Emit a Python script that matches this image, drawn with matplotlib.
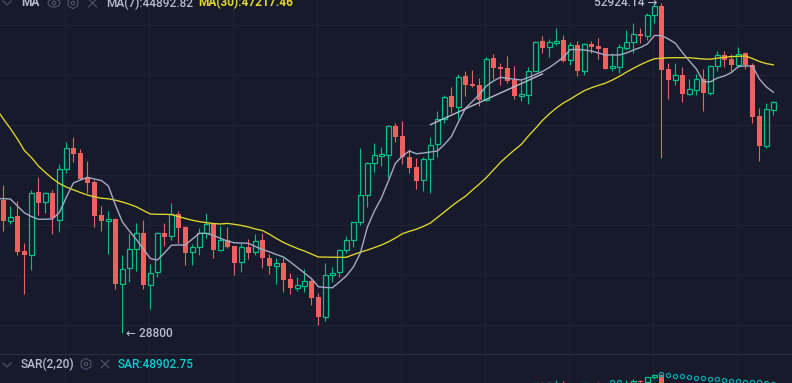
import numpy as np
import matplotlib
matplotlib.use("Agg")
import matplotlib.pyplot as plt
from matplotlib.patches import Ellipse, RegularPolygon, Circle

plt.rcParams['font.family'] = ['Roboto', 'DejaVu Sans']

opens = [36802,35425,35734,33481,33273,37329,36647,37281,35490,38947,40507,40114,38306,38045,35800,35425,35536,31540,32448,33605,34612,31482,32210,34612,34421,35846,34997,33420,33730,34612,35211,33580,34185,33811,32810,33767,33420,34185,33071,32605,32767,31814,31308,31424,31697,30776,29678,32068,32210,33543,34166,35321,37165,39381,39937,39966,42161,41414,39819,39113,38164,39672,40785,42755,44560,43713,46233,45556,45472,44280,47793,47007,46920,45917,44609,44642,46712,49315,48774,49188,49405,47616,48980,46712,49071,48890,48710,46920,47059,48737,49224,49984,49828,51738,52634,46859,45917,46345,44749,45103,46003,44856,47094,48086,47704,47233,48236,47207,42970,40657,43470]
highs = [37857,36399,36755,34017,37487,38420,37350,37487,39330,40958,41315,40432,39526,38185,36399,36084,35602,33254,34631,35256,35470,32689,34695,35256,36580,36044,35083,33935,34932,35912,35276,35083,35037,33841,34017,34230,34567,34612,33297,33071,33052,32186,31914,32406,31855,31004,32749,32527,33605,34440,35340,40485,39497,40860,40605,42239,42395,42551,40410,39745,39863,41315,43343,44667,45305,46430,46712,46746,46062,47882,48148,47355,48023,47146,46003,47059,49369,49800,49496,50511,49892,49278,49369,49134,49369,49616,48737,48236,49071,50352,50980,50539,51929,52896,52924.14,47355,47355,47059,45977,46430,46859,47233,48414,48467,48148,48800,48325,47355,43608,43988,44174]
lows = [34758,35191,33236,30947,32346,35780,35912,34567,34714,38704,39475,38185,37302,35037,34758,33297,31216,28800,31656,32269,31250,30119,31951,33810,34185,34017,32665,32647,33273,34312,33071,33481,33705,32050,32228,32991,33254,32466,32110,31523,31078,30947,31118,31044,30342,29228,29443,31656,31914,33359,33767,35165,36352,38754,39207,38327,40980,39330,38661,37578,37439,37302,39863,42442,43184,42755,44609,45305,43770,44198,45977,45472,45640,44362,44198,43907,46661,48290,47935,49008,47494,47181,46259,46319,48290,47704,46833,46687,46490,48529,48290,49134,49432,50980,39767,44362,45523,44093,44667,44691,43343,44642,46661,47007,46712,47059,46885,42442,39548,40507,43049]
closes = [35425,35688,33457,33273,37302,36621,37261,35582,38947,40485,40084,38235,37996,35754,35425,35516,31523,32424,33605,34612,31465,32186,34612,34395,35846,34971,33395,33730,34612,35191,33580,34166,33748,32785,33730,33395,34141,33052,32587,32749,31755,31308,31448,31680,30719,29662,32068,32186,33543,34166,35321,37165,39381,39966,40040,42161,41361,39819,39062,38136,39672,40755,42755,44527,43713,46199,45523,45414,44255,47757,46972,46885,45833,44584,44724,46712,49278,48737,49224,49369,47581,48980,46712,49071,48800,48620,46885,47094,48774,49224,49956,49828,51738,52605,46798,45917,46319,44749,45137,45977,44856,47120,48059,47669,47233,48201,47181,42914,40657,43503,44069]

# the two averages start one candle before the first visible candle
ma_index = list(range(-1, 111))
ma7 = [36900,36891,36870,36399,35945,35701,35516,35523,35536,35967,37007,37976,38185,38377,38256,38150,37766,36466,35340,34758,34217,33623,33040,32948,33377,33860,33873,33873,34249,34612,34612,34472,34300,34123,34010,33998,33979,33779,33592,33451,33285,33132,32828,32497,32169,31844,31366,31320,31308,31639,32003,32527,33377,35018,36064,36939,38115,39381,39915,40283,40077,40136,40210,40283,40770,41376,42496,43583,44134,44707,45414,45833,46148,46071,45985,45917,46131,46387,46644,46990,47424,47882,48574,48565,48529,48440,48263,48086,48086,48086,48263,48529,48755,49071,49846,49846,49524,49134,48307,47555,46859,45774,45774,46088,46259,46558,47076,47120,47120,46003,45330,44893]
ma30 = [43540,42731,41990,41185,40320,39804,39186,38718,38292,37941,37696,37501,37316,37145,37021,36925,36884,36789,36668,36520,36345,36097,35866,35846,35846,35826,35701,35569,35451,35366,35295,35243,35211,35250,35191,35114,35018,34887,34790,34554,34281,34035,33841,33655,33500,33316,33132,33126,33120,33114,33114,33279,33426,33561,33711,33873,34073,34312,34586,34739,34874,35056,35276,35635,36000,36379,36735,37055,37487,37906,38363,38896,39439,39915,40357,40785,41414,41990,42613,43144,43608,44012,44337,44691,45029,45263,45464,45649,45917,46233,46584,46920,47233,47511,47748,47802,47837,47846,47846,47846,47784,47731,47713,47802,47882,47944,47971,47997,47775,47511,47329,47217]

sar_index = [87,88,94,95,96,97,98,99,100,101,102,103,104,105,106,107,108,109,110]
sar_values = [49510,49510,52924,52616,52310,52050,51750,51450,51200,50910,50700,50490,50210,49970,49810,49690,49490,49290,48903]

trend_index = [61, 77]
trend_values = [42286, 46430]

grid_prices = [50820,46345,42261,38539,35146,32050,29228]
grid_index = [8.86 + 12*k for k in range(9)]

BG = '#161a2b'
GRID = '#1f2334'
SEP = '#2a3049'
UP = '#00c087'
DOWN = '#f0605f'
MA7C = '#a5a9c2'
MA30C = '#e3d72b'
TXT = '#b9bdd3'
CY = '#00d0d3'
ICON = '#50556c'

W, H = 792, 383
fig = plt.figure(figsize=(W/100, H/100), dpi=100, facecolor=BG)
SPLIT = 354
ax = fig.add_axes([0, (H-SPLIT)/H, 1, SPLIT/H], facecolor=BG)
ax2 = fig.add_axes([0, 0, 1, (H-SPLIT)/H], facecolor=BG)

idx = np.arange(len(opens))
o, h, l, c = map(np.array, (opens, highs, lows, closes))
up = c >= o
top = np.maximum(o, c)
bot = np.minimum(o, c)
BW = 5/7

def candles(a):
    a.vlines(idx[up], top[up], h[up], color=UP, lw=0.8, zorder=2)
    a.vlines(idx[up], l[up], bot[up], color=UP, lw=0.8, zorder=2)
    a.bar(idx[up], top[up]-bot[up], bottom=bot[up], width=BW-0.1, facecolor='none',
          edgecolor=UP, linewidth=0.9, zorder=2)
    a.vlines(idx[~up], l[~up], h[~up], color=DOWN, lw=0.8, zorder=2)
    a.bar(idx[~up], top[~up]-bot[~up], bottom=bot[~up], width=BW, facecolor=DOWN,
          edgecolor=DOWN, linewidth=0, zorder=2)

for a in (ax, ax2):
    a.set_yscale('log')
    a.set_xlim(-0.4857, 112.657)
    for s in a.spines.values():
        s.set_visible(False)
    a.set_xticks(grid_index)
    a.tick_params(length=0, labelbottom=False, labelleft=False, which='both')
    a.minorticks_off()
    a.xaxis.grid(True, color=GRID, lw=0.75, zorder=0)
    a.set_axisbelow(True)
    candles(a)

ax.set_ylim(27706, 53216)
ax.set_yticks(grid_prices)
ax.minorticks_off()
ax.tick_params(length=0, labelleft=False, which='both')
ax.yaxis.grid(True, color=GRID, lw=0.75, zorder=0)

ax.plot(ma_index, ma30, color=MA30C, lw=0.95, zorder=3)
ax.plot(ma_index, ma7, color=MA7C, lw=1.0, zorder=3)
ax.plot(trend_index, trend_values, color='#b9bdd0', lw=1.0, zorder=3)

ax2.set_ylim(49223, 62678)
ax2.set_yticks([])
ax2.minorticks_off()
ax2.tick_params(length=0, labelleft=False, which='both')
ax2.plot(sar_index, sar_values, ls='none', marker='o', ms=3.0, mfc='none', mec='#00a6aa', mew=0.9, zorder=4)

ov = fig.add_axes([0, 0, 1, 1], facecolor='none')
ov.set_xlim(0, W)
ov.set_ylim(H, 0)
ov.axis('off')
ov.axhline(SPLIT, color=SEP, lw=0.75)

def label(x, y, s, color=TXT, ha='left', weight='medium', size=8.6):
    ov.text(x, y, s, color=color, ha=ha, va='center', fontsize=size, fontweight=weight)

def chevron(x, y):
    ov.plot([x-4, x, x+4], [y-2, y+2, y-2], color=ICON, lw=0.8)

def cross(x, y):
    ov.plot([x-4, x+4], [y-4, y+4], color=ICON, lw=0.8)
    ov.plot([x-4, x+4], [y+4, y-4], color=ICON, lw=0.8)

def hexa(x, y):
    ov.add_patch(RegularPolygon((x, y), 6, radius=5.6, fill=False, ec=ICON, lw=0.8))
    ov.add_patch(Circle((x, y), 1.7, fill=False, ec=ICON, lw=0.8))

# header of the main panel
chevron(7, 3)
label(21, 3, 'MA', weight='bold')
ov.add_patch(Ellipse((54, 3), 12, 8, fill=False, ec=ICON, lw=0.8))
ov.add_patch(Circle((54, 3), 1.8, fill=False, ec=ICON, lw=0.8))
hexa(73, 3)
cross(92.5, 3)
label(106, 3, 'MA(7):44892.82')
label(198, 3, 'MA(30):47217.46', color=MA30C, weight='bold')

# header of the SAR panel
chevron(7, 365)
label(21, 364, 'SAR(2,20)')
hexa(86, 364)
cross(105, 364)
label(118, 364, 'SAR:48902.75', color=CY)

# extreme labels
label(658, 3, '52924.14 →', ha='right')
label(126, 333.5, '← 28800')

fig.savefig('out.png', dpi=100, facecolor=BG)
